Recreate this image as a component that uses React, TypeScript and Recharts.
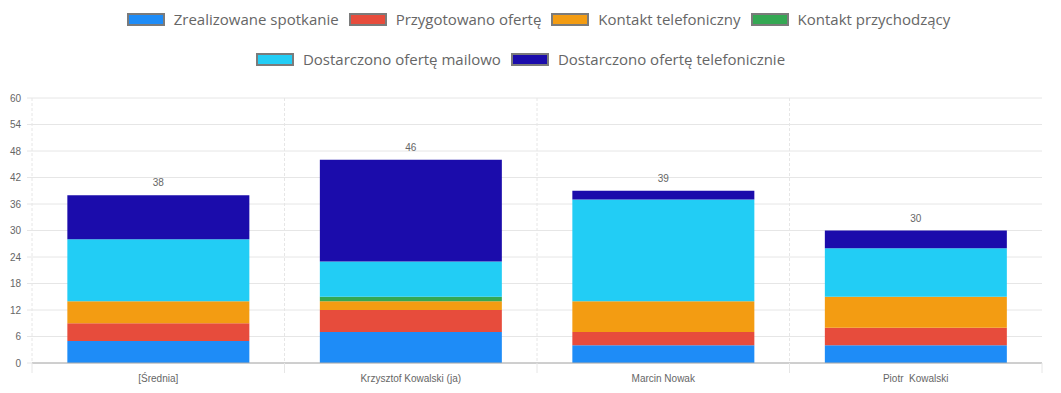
import React from "react";
import { BarChart, Bar, XAxis, YAxis, CartesianGrid, LabelList } from "recharts";

const categories = ["[Średnia]", "Krzysztof Kowalski (ja)", "Marcin Nowak", "Piotr  Kowalski"];

const zrealizowaneSpotkanie = [5, 7, 4, 4];
const przygotowanoOferte = [4, 5, 3, 4];
const kontaktTelefoniczny = [5, 2, 7, 7];
const kontaktPrzychodzacy = [0, 1, 0, 0];
const ofertaMailowo = [14, 8, 23, 11];
const ofertaTelefonicznie = [10, 23, 2, 4];

const seriesNames = [
  "Zrealizowane spotkanie",
  "Przygotowano ofertę",
  "Kontakt telefoniczny",
  "Kontakt przychodzący",
  "Dostarczono ofertę mailowo",
  "Dostarczono ofertę telefonicznie",
];
const seriesValues = [
  zrealizowaneSpotkanie,
  przygotowanoOferte,
  kontaktTelefoniczny,
  kontaktPrzychodzacy,
  ofertaMailowo,
  ofertaTelefonicznie,
];
const colors = ["#1E8CF7", "#E74C3C", "#F39C12", "#34A853", "#22CDF5", "#1B0CAB"];

const yTicks = [0, 6, 12, 18, 24, 30, 36, 42, 48, 54, 60];

const data = categories.map((name, i) => {
  const row: Record<string, any> = { name };
  seriesValues.forEach((vals, s) => {
    row["s" + s] = vals[i];
  });
  row.total = seriesValues.reduce((acc, vals) => acc + vals[i], 0);
  return row;
});

const CHART_W = 1061;
const CHART_H = 308;
const MARGIN = { top: 13, right: 19, left: 0, bottom: 0 };
const Y_W = 32;
const TICK_MARGIN = 10;
const BAND = (CHART_W - MARGIN.left - MARGIN.right - Y_W) / categories.length;

const XTick = (props: any) => {
  const { x, y, payload, index } = props;
  const axisY = y - TICK_MARGIN;
  return (
    <g>
      <line x1={x - BAND / 2} x2={x - BAND / 2} y1={axisY} y2={axisY + 10} stroke="#e6e6e6" />
      {index === categories.length - 1 && (
        <line x1={x + BAND / 2} x2={x + BAND / 2} y1={axisY} y2={axisY + 10} stroke="#e6e6e6" />
      )}
      <text
        x={x}
        y={y + 9}
        textAnchor="middle"
        fill="#666"
        fontSize={10}
        fontFamily="'Liberation Sans', Arial, sans-serif"
        style={{ whiteSpace: "pre" }}
      >
        {payload.value}
      </text>
    </g>
  );
};

const LegendRow = ({ items, shift }: { items: number[]; shift: number }) => (
  <div
    style={{
      display: "flex",
      justifyContent: "center",
      height: 40,
      alignItems: "center",
      position: "relative",
      left: shift,
    }}
  >
    {items.map((s) => (
      <div key={s} style={{ display: "flex", alignItems: "center", margin: "0 5px" }}>
        <span
          style={{
            display: "inline-block",
            width: 34,
            height: 9,
            background: colors[s],
            border: "2px solid #7b7b7b",
            marginRight: 9,
          }}
        />
        <span style={{ color: "#666", fontSize: 15, fontFamily: "'Open Sans', sans-serif" }}>
          {seriesNames[s]}
        </span>
      </div>
    ))}
  </div>
);

export default function App() {
  return (
    <div style={{ position: "absolute", left: 0, top: 0, width: CHART_W, height: 393, background: "#fff" }}>
      <div style={{ height: 85, position: "relative" }}>
        <div style={{ position: "absolute", top: -1, left: 0, width: CHART_W }}>
          <LegendRow items={[0, 1, 2, 3]} shift={8} />
          <LegendRow items={[4, 5]} shift={-10} />
        </div>
      </div>
      <BarChart width={CHART_W} height={CHART_H} data={data} margin={MARGIN} barCategoryGap="14%">
        <CartesianGrid stroke="#e6e6e6" horizontal vertical={false} />
        <CartesianGrid
          stroke="#e6e6e6"
          strokeDasharray="3 2"
          horizontal={false}
          verticalCoordinatesGenerator={({ offset }: any) =>
            categories.map((_, i) => offset.left + (i * offset.width) / categories.length)
          }
        />
        <XAxis
          dataKey="name"
          height={30}
          axisLine={{ stroke: "#aaa" }}
          tickLine={false}
          tickSize={0}
          tickMargin={TICK_MARGIN}
          interval={0}
          tick={<XTick />}
        />
        <YAxis
          width={Y_W}
          domain={[0, 60]}
          ticks={yTicks}
          axisLine={false}
          tickLine={{ stroke: "#e6e6e6" }}
          tickSize={5}
          tickMargin={6}
          tick={{ fill: "#666", fontSize: 10, fontFamily: "'Liberation Sans', Arial, sans-serif" }}
        />
        {seriesNames.map((n, s) => (
          <Bar key={n} dataKey={"s" + s} name={n} stackId="a" fill={colors[s]} isAnimationActive={false}>
            {s === seriesNames.length - 1 && (
              <LabelList
                dataKey="total"
                position="top"
                offset={9}
                fill="#666"
                fontSize={10}
                fontFamily="'Liberation Sans', Arial, sans-serif"
              />
            )}
          </Bar>
        ))}
      </BarChart>
    </div>
  );
}
